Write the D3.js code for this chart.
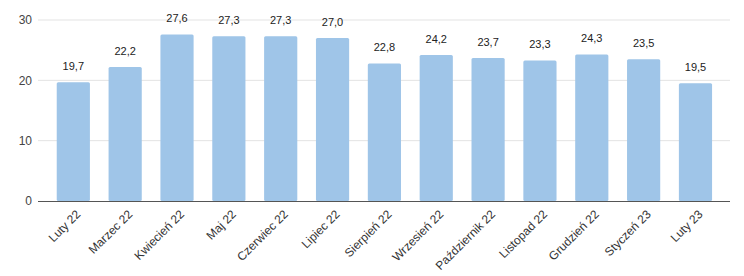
<!DOCTYPE html>
<html>
<head>
    <meta charset="utf-8">
    <script src="https://d3js.org/d3.v7.min.js"></script>
    <style>
        body { margin: 0; background: #fff; font-family: Arial, "Liberation Sans", sans-serif; }
        svg { display: block; }
    </style>
</head>
<body>
    <div id="chart"></div>
    <script>
        // Data
        const months = ["Luty 22", "Marzec 22", "Kwiecień 22", "Maj 22", "Czerwiec 22", "Lipiec 22",
            "Sierpień 22", "Wrzesień 22", "Październik 22", "Listopad 22", "Grudzień 22", "Styczeń 23", "Luty 23"];
        const values = [19.7, 22.2, 27.6, 27.3, 27.3, 27.0, 22.8, 24.2, 23.7, 23.3, 24.3, 23.5, 19.5];
        const yTicks = [0, 10, 20, 30];

        const width = 744, height = 276;
        const plotLeft = 38, plotRight = 730, plotTop = 20, plotBottom = 201;

        const svg = d3.select('#chart').append('svg')
            .attr('width', width)
            .attr('height', height);

        const x = d3.scaleBand()
            .domain(months)
            .range([47.4, 721.4])
            .paddingInner(0.36)
            .paddingOuter(0.18);

        const y = d3.scaleLinear()
            .domain([0, 30])
            .range([plotBottom, plotTop]);

        // Gridlines
        svg.append('g')
            .selectAll('line')
            .data(yTicks.filter(d => d > 0))
            .join('line')
            .attr('x1', plotLeft)
            .attr('x2', plotRight)
            .attr('y1', d => y(d))
            .attr('y2', d => y(d))
            .attr('stroke', '#e3e3e3')
            .attr('stroke-width', 1);

        // Y tick labels
        svg.append('g')
            .selectAll('text')
            .data(yTicks)
            .join('text')
            .attr('x', 32)
            .attr('y', d => y(d))
            .attr('dy', '0.35em')
            .attr('text-anchor', 'end')
            .attr('fill', '#444')
            .style('font-size', '12px')
            .text(d => d);

        // Bars
        svg.append('g')
            .selectAll('rect')
            .data(values)
            .join('rect')
            .attr('x', (d, i) => x(months[i]))
            .attr('y', d => y(d))
            .attr('width', x.bandwidth())
            .attr('height', d => plotBottom - y(d))
            .attr('rx', 1.5)
            .attr('fill', '#9fc5e8');

        // Baseline
        svg.append('line')
            .attr('x1', plotLeft)
            .attr('x2', plotRight)
            .attr('y1', y(0) + 0.5)
            .attr('y2', y(0) + 0.5)
            .attr('stroke', '#555')
            .attr('stroke-width', 1);

        // Value labels
        svg.append('g')
            .selectAll('text')
            .data(values)
            .join('text')
            .attr('x', (d, i) => x(months[i]) + x.bandwidth() / 2)
            .attr('y', d => y(d) - 12)
            .attr('text-anchor', 'middle')
            .attr('fill', '#222')
            .style('font-size', '11px')
            .text(d => d.toFixed(1).replace('.', ','));

        // X labels, rotated
        svg.append('g')
            .selectAll('text')
            .data(months)
            .join('text')
            .attr('transform', d => `translate(${x(d) + x.bandwidth() / 2 + 5},${plotBottom + 11}) rotate(-45)`)
            .attr('text-anchor', 'end')
            .attr('dy', '0.35em')
            .attr('fill', '#333')
            .style('font-size', '12px')
            .text(d => d);
    </script>
</body>
</html>
